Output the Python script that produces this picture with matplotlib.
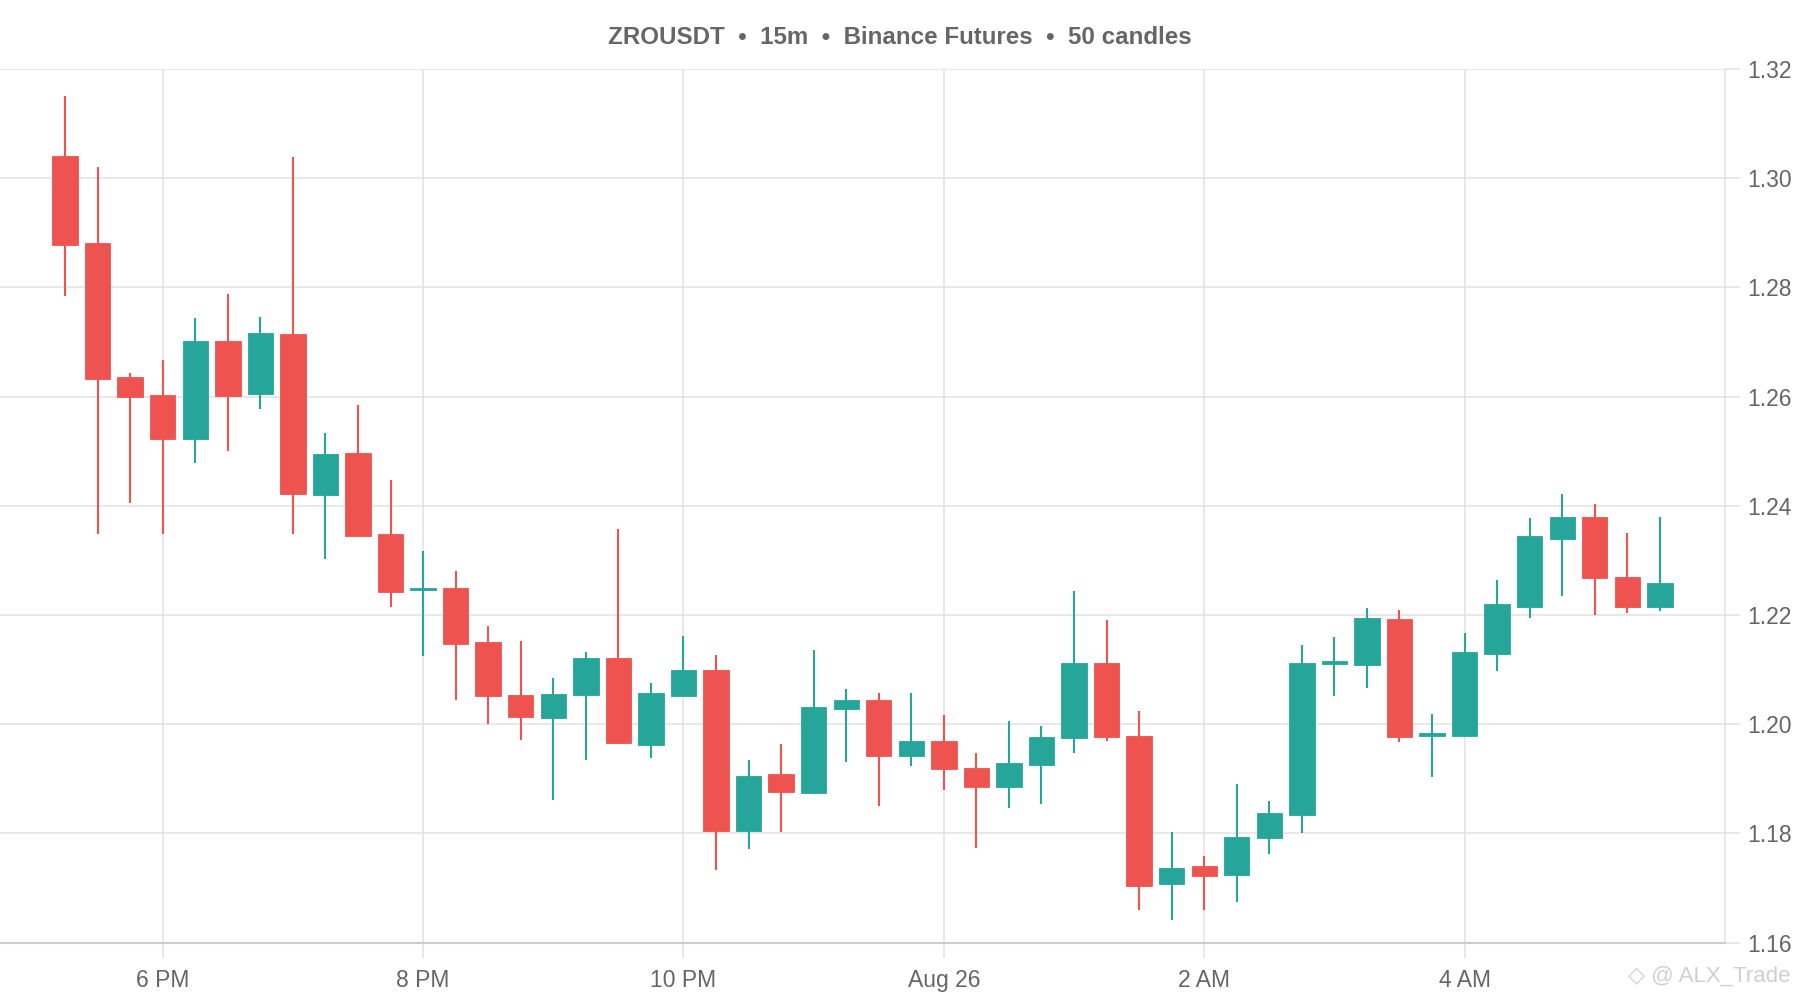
import matplotlib
matplotlib.use("Agg")
import matplotlib.pyplot as plt
import numpy as np

# OHLC values, one per 15m candle (17:15 -> 05:30)
opens = [1.3041, 1.2881, 1.2635, 1.2603, 1.2522, 1.2701, 1.2605, 1.2715, 1.2420, 1.2496,
         1.2348, 1.2245, 1.2249, 1.2150, 1.2054, 1.2012, 1.2053, 1.2121, 1.1962, 1.2052,
         1.2099, 1.1804, 1.1908, 1.1874, 1.2027, 1.2044, 1.1942, 1.1970, 1.1920, 1.1885,
         1.1925, 1.1974, 1.2112, 1.1978, 1.1707, 1.1740, 1.1724, 1.1792, 1.1834, 1.2111,
         1.2108, 1.2193, 1.1979, 1.1978, 1.2128, 1.2215, 1.2340, 1.2380, 1.2270, 1.2215]
highs = [1.3151, 1.3020, 1.2644, 1.2667, 1.2744, 1.2788, 1.2746, 1.3039, 1.2533, 1.2584,
         1.2448, 1.2317, 1.2280, 1.2180, 1.2152, 1.2084, 1.2132, 1.2357, 1.2075, 1.2162,
         1.2127, 1.1934, 1.1963, 1.2136, 1.2064, 1.2057, 1.2057, 1.2016, 1.1948, 1.2006,
         1.1996, 1.2244, 1.2190, 1.2024, 1.1803, 1.1759, 1.1890, 1.1859, 1.2145, 1.2160,
         1.2212, 1.2210, 1.2019, 1.2167, 1.2265, 1.2377, 1.2421, 1.2404, 1.2351, 1.2379]
lows = [1.2784, 1.2348, 1.2406, 1.2348, 1.2479, 1.2501, 1.2578, 1.2348, 1.2302, 1.2344,
        1.2215, 1.2125, 1.2045, 1.2001, 1.1971, 1.1861, 1.1935, 1.1965, 1.1938, 1.2052,
        1.1733, 1.1771, 1.1802, 1.1873, 1.1931, 1.1850, 1.1923, 1.1880, 1.1773, 1.1846,
        1.1854, 1.1948, 1.1970, 1.1660, 1.1641, 1.1660, 1.1674, 1.1762, 1.1800, 1.2052,
        1.2066, 1.1968, 1.1903, 1.1978, 1.2097, 1.2194, 1.2235, 1.2200, 1.2204, 1.2207]
closes = [1.2878, 1.2632, 1.2600, 1.2522, 1.2702, 1.2602, 1.2716, 1.2421, 1.2495, 1.2345,
          1.2242, 1.2246, 1.2147, 1.2051, 1.2013, 1.2056, 1.2121, 1.1965, 1.2057, 1.2099,
          1.1804, 1.1905, 1.1876, 1.2032, 1.2045, 1.1942, 1.1969, 1.1918, 1.1885, 1.1929,
          1.1976, 1.2112, 1.1976, 1.1704, 1.1737, 1.1722, 1.1794, 1.1837, 1.2113, 1.2112,
          1.2194, 1.1977, 1.1980, 1.2132, 1.2220, 1.2344, 1.2380, 1.2268, 1.2215, 1.2259]

tick_pos = [3, 11, 19, 27, 35, 43]
tick_labels = ["6 PM", "8 PM", "10 PM", "Aug 26", "2 AM", "4 AM"]
y_ticks = [1.16, 1.18, 1.20, 1.22, 1.24, 1.26, 1.28, 1.30, 1.32]

UP = "#26a69a"
DOWN = "#ef5350"
GRID = "#e1e1e1"
TXT = "#666666"

plt.rcParams["font.family"] = ["Liberation Sans", "DejaVu Sans"]

fig = plt.figure(figsize=(18, 10), dpi=100)
ax = fig.add_axes([0.0, 0.0574, 0.9583, 0.8736])

o = np.array(opens)
h = np.array(highs)
l = np.array(lows)
c = np.array(closes)
x = np.arange(len(o))
colors = [UP if cc >= oo else DOWN for oo, cc in zip(o, c)]

# wicks
ax.vlines(x, l, h, colors=colors, linewidth=1.5, zorder=3)
# bodies
bottoms = np.minimum(o, c)
heights = np.maximum(np.abs(c - o), 0.0005)
ax.bar(x, heights, bottom=bottoms, width=0.78, color=colors, edgecolor=colors,
       linewidth=0.6, zorder=4)

ax.set_xlim(-2, 51)
ax.set_ylim(1.16, 1.32)

ax.set_xticks(tick_pos)
ax.set_xticklabels(tick_labels)
ax.set_yticks(y_ticks)
ax.set_yticklabels([f"{v:.2f}" for v in y_ticks])
ax.yaxis.tick_right()

ax.grid(True, color=GRID, linewidth=1.1, zorder=0)
ax.tick_params(axis="x", length=11, width=1.1, color=GRID, pad=8,
               labelsize=16.5, labelcolor=TXT)
ax.tick_params(axis="y", length=11, width=1.1, color=GRID, pad=5,
               labelsize=16.5, labelcolor=TXT)

for side in ["top", "left"]:
    ax.spines[side].set_visible(False)
ax.spines["right"].set_color(GRID)
ax.spines["right"].set_linewidth(1.1)
ax.spines["bottom"].set_color("#cccccc")
ax.spines["bottom"].set_linewidth(1.5)

fig.text(0.5, 0.963, "ZROUSDT  \u2022  15m  \u2022  Binance Futures  \u2022  50 candles",
         ha="center", va="center", fontsize=17.4, fontweight="bold", color="#666666")

fig.text(0.995, 0.024, "\u25c7 @ ALX_Trade", ha="right", va="center", fontsize=16,
         color="#d0d0d0")

plt.savefig("out.png", dpi=100)
